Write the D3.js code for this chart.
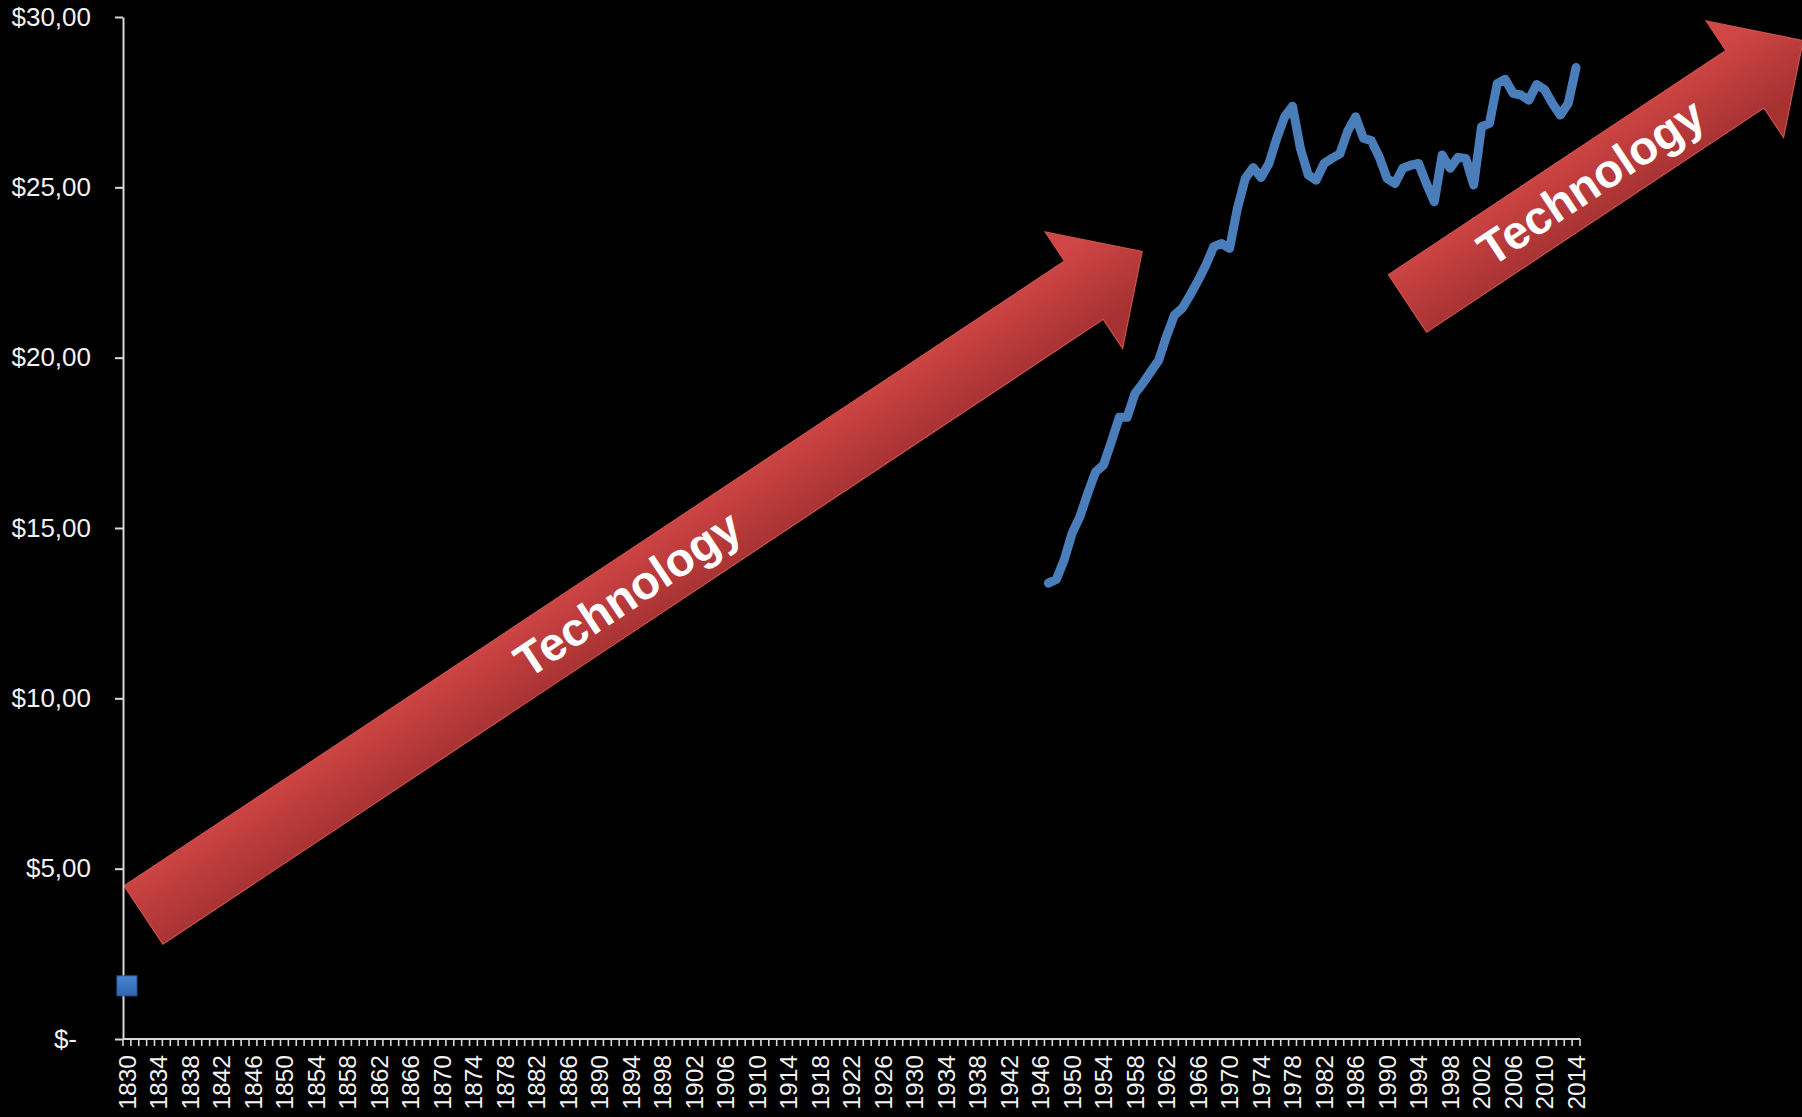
<!DOCTYPE html>
<html>
<head>
<meta charset="utf-8">
<script src="https://cdn.jsdelivr.net/npm/d3@7"></script>
<style>
  html, body { margin: 0; padding: 0; background: #000; }
  svg { display: block; }
</style>
</head>
<body>
<svg id="chart" width="1802" height="1117"></svg>
<script>
// ---------- DATA ----------
const categoryStart = 1830;
const categoryEnd = 2014;

// single early observation (square marker)
const pointYears = [1830];
const pointValues = [1.56];

// line series
const lineYears = [
  1947,1948,1949,1950,1951,1952,1953,1954,1955,1956,1957,1958,1959,1960,
  1961,1962,1963,1964,1965,1966,1967,1968,1969,1970,1971,1972,1973,1974,
  1975,1976,1977,1978,1979,1980,1981,1982,1983,1984,1985,1986,1987,1988,
  1989,1990,1991,1992,1993,1994,1995,1996,1997,1998,1999,2000,2001,2002,
  2003,2004,2005,2006,2007,2008,2009,2010,2011,2012,2013,2014
];
const lineValues = [
  13.38,13.49,14.06,14.84,15.33,16.02,16.65,16.85,17.53,18.25,18.25,18.95,19.25,19.59,
  19.92,20.63,21.25,21.45,21.84,22.26,22.72,23.26,23.35,23.21,24.38,25.26,25.58,25.29,
  25.70,26.44,27.07,27.38,26.14,25.36,25.21,25.70,25.85,25.98,26.65,27.07,26.44,26.37,
  25.90,25.26,25.11,25.56,25.65,25.70,25.11,24.58,25.95,25.56,25.88,25.85,25.07,26.78,
  26.88,28.05,28.17,27.76,27.71,27.56,28.02,27.87,27.46,27.12,27.46,28.52
];

const yTickValues = [0, 5, 10, 15, 20, 25, 30];
const yTickLabels = ["$-", "$5,00", "$10,00", "$15,00", "$20,00", "$25,00", "$30,00"];
const xLabelStep = 4;

const annotationText = ["Technology", "Technology"];

// ---------- LAYOUT / STYLE ----------
const svg = d3.select("#chart");
const W = 1802, H = 1117;
const plot = { left: 123, right: 1580, top: 17, bottom: 1039 };
const axisColor = "#d9d9d9";
const textColor = "#f2f2f2";
const fontFamily = "'Liberation Sans', Arial, Helvetica, sans-serif";

svg.append("rect").attr("width", W).attr("height", H).attr("fill", "#000");

const categories = d3.range(categoryStart, categoryEnd + 1);
const x = d3.scaleBand().domain(categories).range([plot.left, plot.right]).padding(0);
const y = d3.scaleLinear().domain([0, 30]).range([plot.bottom, plot.top]);
const xc = d => x(d) + x.bandwidth() / 2;

// defs
const defs = svg.append("defs");
const ag = defs.append("linearGradient").attr("id", "arrowGrad")
  .attr("gradientUnits", "userSpaceOnUse")
  .attr("x1", 0).attr("y1", -42).attr("x2", 0).attr("y2", 42);
ag.append("stop").attr("offset", "0%").attr("stop-color", "#d04545");
ag.append("stop").attr("offset", "100%").attr("stop-color", "#a53131");

const sg = defs.append("linearGradient").attr("id", "sqGrad")
  .attr("x1", 0).attr("y1", 0).attr("x2", 0).attr("y2", 1);
sg.append("stop").attr("offset", "0%").attr("stop-color", "#4787d6");
sg.append("stop").attr("offset", "100%").attr("stop-color", "#3063b0");

// ---------- ARROWS (annotations) ----------
const arrows = [
  { tail: [143.5, 915], angle: -33.6, length: 1199, body: 70, headW: 140, headL: 70, textAt: 581 },
  { tail: [1407.5, 303.4], angle: -33.6, length: 475, body: 69, headW: 140, headL: 70, textAt: 220 }
];

arrows.forEach((a, i) => {
  const L = a.length, b = a.body / 2, h = a.headW / 2, hl = a.headL;
  const g = svg.append("g")
    .attr("transform", `translate(${a.tail[0]},${a.tail[1]}) rotate(${a.angle})`);
  const p = d3.path();
  p.moveTo(0, -b); p.lineTo(L - hl, -b); p.lineTo(L - hl, -h); p.lineTo(L, 0);
  p.lineTo(L - hl, h); p.lineTo(L - hl, b); p.lineTo(0, b); p.closePath();
  g.append("path").attr("d", p.toString())
    .attr("fill", "url(#arrowGrad)")
    .attr("stroke", "#c9524e").attr("stroke-width", 1.2)
    .attr("stroke-linejoin", "miter");
  g.append("text")
    .attr("x", a.textAt).attr("y", 0)
    .attr("text-anchor", "middle")
    .attr("dominant-baseline", "central")
    .attr("fill", "#ffffff")
    .attr("font-family", fontFamily)
    .attr("font-weight", "bold")
    .attr("font-size", 47)
    .text(annotationText[i]);
});

// ---------- AXES ----------
const yAxis = d3.axisLeft(y)
  .tickValues(yTickValues)
  .tickFormat((d, i) => yTickLabels[i])
  .tickSize(8).tickSizeOuter(0).tickPadding(24);
const gy = svg.append("g").attr("transform", `translate(${plot.left},0)`).call(yAxis);
gy.select(".domain").attr("stroke", axisColor).attr("stroke-width", 2);
gy.selectAll(".tick line").attr("stroke", axisColor).attr("stroke-width", 2);
gy.selectAll(".tick text")
  .attr("fill", textColor)
  .attr("font-family", fontFamily)
  .attr("font-size", 26)
  .attr("dx", (d) => d === 0 ? -14 : 0);

// x axis line
const gx = svg.append("g");
gx.append("line")
  .attr("x1", plot.left).attr("x2", plot.right)
  .attr("y1", plot.bottom).attr("y2", plot.bottom)
  .attr("stroke", axisColor).attr("stroke-width", 2);
// ticks at category boundaries
const boundaries = categories.map(d => x(d)).concat([plot.right]);
gx.selectAll("line.tk").data(boundaries).join("line").attr("class", "tk")
  .attr("x1", d => d).attr("x2", d => d)
  .attr("y1", plot.bottom).attr("y2", plot.bottom + 7)
  .attr("stroke", axisColor).attr("stroke-width", 1.6);
// labels
const xLabels = categories.filter(d => (d - categoryStart) % xLabelStep === 0);
gx.selectAll("text").data(xLabels).join("text")
  .attr("transform", d => `translate(${xc(d)},${plot.bottom + 16}) rotate(-90)`)
  .attr("text-anchor", "end")
  .attr("dy", "0.35em")
  .attr("fill", textColor)
  .attr("font-family", fontFamily)
  .attr("font-size", 24.5)
  .text(d => String(d));

// ---------- SERIES ----------
const lineData = lineYears.map((yr, i) => ({ yr, v: lineValues[i] }));
const line = d3.line().x(d => xc(d.yr)).y(d => y(d.v));
svg.append("path").datum(lineData)
  .attr("d", line)
  .attr("fill", "none")
  .attr("stroke", "#4a7ebb")
  .attr("stroke-width", 9)
  .attr("stroke-linejoin", "round")
  .attr("stroke-linecap", "round");

const sq = 20;
svg.selectAll("rect.pt").data(pointYears.map((yr, i) => ({ yr, v: pointValues[i] })))
  .join("rect").attr("class", "pt")
  .attr("x", d => xc(d.yr) - sq / 2)
  .attr("y", d => y(d.v) - sq / 2)
  .attr("width", sq).attr("height", sq)
  .attr("fill", "url(#sqGrad)")
  .attr("stroke", "#2b5596").attr("stroke-width", 1);
</script>
</body>
</html>
